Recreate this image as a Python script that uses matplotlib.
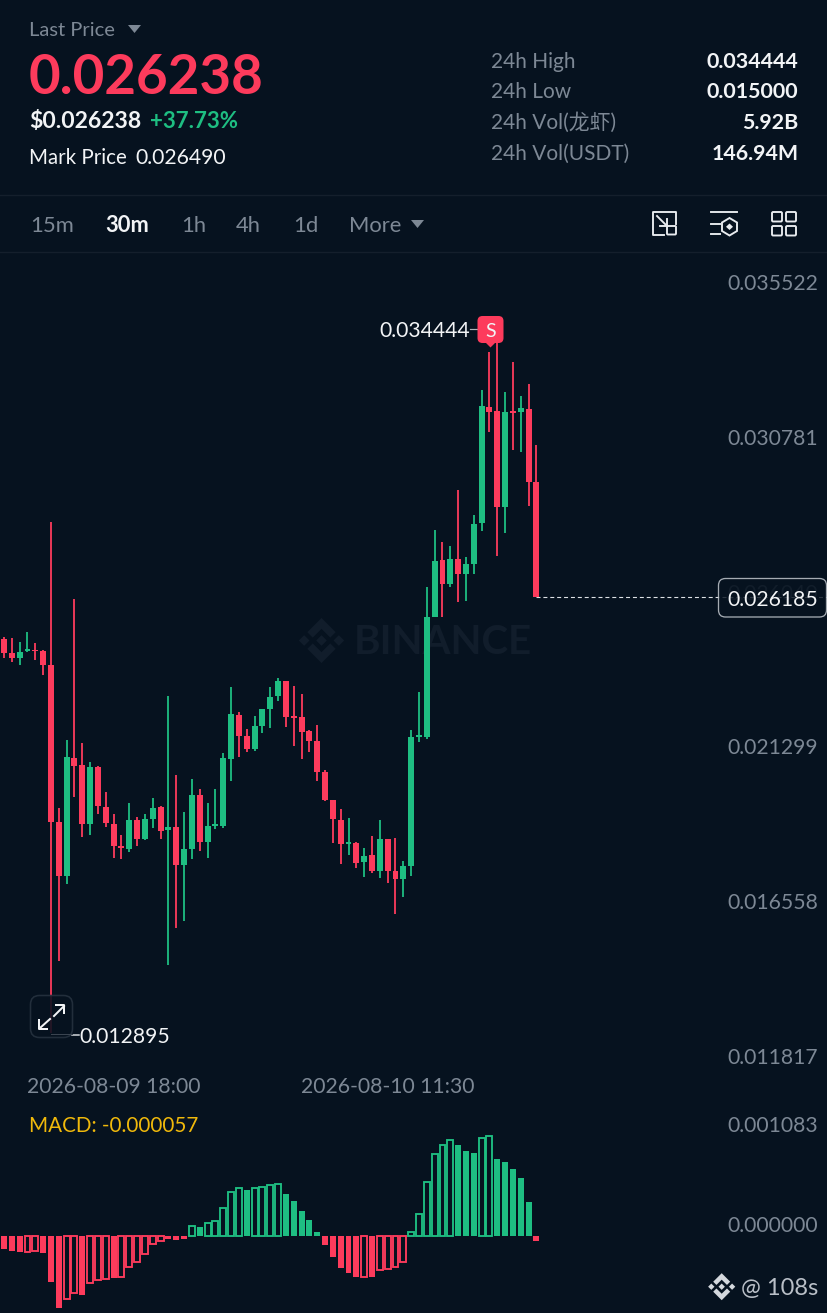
import matplotlib
matplotlib.use("Agg")
import matplotlib.pyplot as plt
from matplotlib.patches import FancyBboxPatch, Polygon
from matplotlib.transforms import ScaledTranslation

FONT = ["Lato", "Noto Sans CJK SC", "DejaVu Sans"]
plt.rcParams["font.family"] = FONT

# ---- data ----
opens = [.024955,.024535,.024373,.024578,.024618,.024596,.024158,.019340,.017695,.021319,.021095,.019297,.021043,.019809,.019288,.018623,.018522,.019411,.018819,.019450,.019800,.019095,.019187,.018032,.018531,.020176,.018746,.019236,.019236,.021288,.022627,.021993,.021576,.022290,.022801,.023209,.023659,.022596,.022566,.022127,.021821,.020881,.020023,.019420,.018667,.018697,.018115,.018329,.017858,.018838,.017839,.017603,.018011,.021944,.021944,.025638,.027365,.026639,.027396,.026936,.027252,.028498,.032052,.031929,.029007,.031908,.031908,.032000,.029773]
closes = [.024535,.024373,.024556,.024648,.024578,.024158,.019340,.017686,.021349,.021065,.019288,.021034,.019830,.019310,.018614,.018544,.019411,.018829,.019432,.019787,.019074,.019187,.018032,.018513,.020176,.018746,.019236,.019288,.021310,.022657,.021993,.021576,.022290,.022801,.023187,.023659,.022575,.022535,.022097,.021830,.020881,.020023,.019432,.018667,.018728,.018094,.018317,.017839,.018819,.017849,.017594,.018002,.021962,.022005,.025638,.027344,.026648,.027396,.026946,.027261,.028486,.032082,.031917,.028998,.031899,.031877,.032030,.029773,.026238]
highs = [.025016,.024976,.024863,.025169,.024823,.024618,.028529,.019778,.021861,.026171,.021760,.021178,.021074,.020268,.019604,.018951,.019922,.019493,.019604,.020075,.019839,.023218,.020789,.019665,.020657,.020351,.019922,.020369,.021472,.023475,.022728,.022189,.022596,.022801,.023475,.023751,.023659,.023515,.023261,.022167,.022320,.020933,.020023,.019738,.019463,.018728,.018544,.018921,.019420,.018838,.018859,.018146,.022167,.023322,.026557,.028293,.027917,.027803,.029509,.027476,.028753,.032582,.033736,.034444,.032511,.033430,.032389,.032774,.030888]
lows = [.024373,.024250,.024158,.024547,.024311,.023852,.012895,.015083,.017460,.020106,.018890,.018951,.019594,.019187,.018256,.018216,.018430,.018614,.018798,.019166,.018829,.014969,.016103,.016308,.018207,.018470,.018237,.019144,.019175,.020596,.021349,.021484,.021524,.022085,.022238,.023056,.022268,.021686,.021279,.021503,.020596,.019993,.018715,.018072,.018339,.017931,.017656,.017797,.017634,.017481,.016522,.017061,.017695,.021791,.021901,.025638,.025638,.026538,.026097,.026119,.026936,.028263,.031286,.027506,.028211,.030753,.030673,.029019,.026238]
macd_hist = [-138,-167,-174,-177,-167,-188,-503,-778,-688,-615,-637,-514,-481,-463,-456,-442,-337,-286,-192,-87,-51,-33,-47,-36,112,98,138,163,308,478,525,503,521,536,550,561,460,376,271,174,40,-101,-228,-344,-398,-449,-449,-445,-366,-355,-337,-279,47,239,590,891,988,1046,988,923,901,1068,1083,833,807,731,634,373,-57]
macd_hollow = [0,0,0,1,1,0,0,0,1,1,0,1,1,1,0,1,1,1,1,1,1,0,0,0,1,0,1,1,1,1,1,0,1,1,1,1,0,0,0,0,0,0,0,0,0,0,1,0,1,1,1,1,1,1,1,1,1,1,0,0,0,1,1,0,0,0,0,0,0]
price_ticks = [0.035522, 0.030781, 0.026040, 0.021299, 0.016558, 0.011817]
macd_ticks = [0.001083, 0.000000]
time_tick_idx = [14, 49]
time_tick_labels = ["2026-08-09 18:00", "2026-08-10 11:30"]
last_price = 0.026238
box_price = 0.026185
stats_labels = ["24h High", "24h Low", "24h Vol(龙虾)", "24h Vol(USDT)"]
stats_values = ["0.034444", "0.015000", "5.92B", "146.94M"]
tabs = ["15m", "30m", "1h", "4h", "1d", "More"]

# ---- style ----
BG = "#06121F"
RED = "#FD3B5C"
GREEN = "#1EBE82"
GREY = "#7D8895"
WHITE = "#F2F4F6"
W, H = 828, 1313
PX = 72 / 100
AXIS_FS = 15.2

fig = plt.figure(figsize=(W / 100, H / 100), dpi=100, facecolor=BG)


def rect_px(top, bottom):
    return [0, 1 - bottom / H, 1, (bottom - top) / H]


def pixel_axes(z):
    a = fig.add_axes([0, 0, 1, 1], zorder=z)
    a.set_xlim(0, W)
    a.set_ylim(H, 0)
    a.axis("off")
    return a


def binance_logo(a, cx, cy, r, color, z=1):
    d = 0.235
    for dx in (-0.77, 0, 0.77):
        a.add_patch(Polygon([(cx + (dx - d) * r, cy), (cx + dx * r, cy - d * r),
                             (cx + (dx + d) * r, cy), (cx + dx * r, cy + d * r)],
                            fc=color, ec="none", zorder=z))
    for s in (-1, 1):
        pts = [(0, 1), (.63, .37), (.39, .13), (0, .52), (-.39, .13), (-.63, .37)]
        a.add_patch(Polygon([(cx + x * r, cy + s * y * r) for x, y in pts],
                            fc=color, ec="none", zorder=z))


# background layer (watermark sits behind the candles)
bg = pixel_axes(0)
binance_logo(bg, 321.5, 640.5, 22.5, "#111D2B")
bg.text(354, 642.5, "BINANCE", color="#111D2B", fontsize=29, fontweight="bold",
        va="center", ha="left")
bg.plot([0, W], [195, 195], color="#141F2C", lw=1.4 * PX)
bg.plot([0, W], [252, 252], color="#141F2C", lw=1.4 * PX)

# shared index scale: candle i is centred at 4 + 7.83 i pixels
STEP = 7.83
xlim = (-4 / STEP, (W - 4) / STEP)
PRICE_PER_PX = 0.004741 / 154.8

# ---- price axes ----
ax = fig.add_axes(rect_px(253, 1068), zorder=1)
ax.patch.set_visible(False)
ax.set_xlim(*xlim)
ax.set_ylim(0.011817, 0.035522 + 41 * PRICE_PER_PX)
idx = list(range(len(opens)))
cols = [RED if c < o else GREEN for o, c in zip(opens, closes)]
ax.vlines(idx, lows, highs, colors=cols, lw=1.3, zorder=3)
ax.bar(idx, [max(abs(c - o), 1.6 * PRICE_PER_PX) for o, c in zip(opens, closes)],
       bottom=[min(o, c) for o, c in zip(opens, closes)], width=0.76, color=cols,
       linewidth=0, zorder=4)
ax.plot([idx[-1], xlim[1]], [last_price, last_price], color="#DDE1E5", lw=0.8,
        dashes=(3.6, 2.6), zorder=2)
for s in ax.spines.values():
    s.set_visible(False)
ax.yaxis.tick_right()
ax.set_yticks(price_ticks, [f"{v:.6f}" for v in price_ticks])
ax.tick_params(axis="y", length=0, pad=-10 * PX, labelsize=AXIS_FS, labelcolor=GREY)
ax.set_xticks(time_tick_idx, time_tick_labels)
ax.tick_params(axis="x", length=0, pad=6.5, labelsize=AXIS_FS, labelcolor=GREY)
up = ScaledTranslation(0, 12 / 100, fig.dpi_scale_trans)
for lab, v in zip(ax.get_yticklabels(), price_ticks):
    lab.set_ha("right")
    lab.set_transform(lab.get_transform() + up)
    if v == 0.026040:
        lab.set_color("#46515E")

# ---- MACD axes ----
PX_MACD = 0.001083 / 99.7
mx = fig.add_axes(rect_px(1110, H), zorder=1)
mx.patch.set_visible(False)
mx.set_xlim(*xlim)
mx.set_ylim(-77 * PX_MACD, 126 * PX_MACD)
for i, (h, hol) in enumerate(zip(macd_hist, macd_hollow)):
    v = h * 1e-6
    c = GREEN if v >= 0 else RED
    if hol:
        mx.bar(i, v, width=0.76, facecolor="none", edgecolor=c, linewidth=1.35, zorder=3)
    else:
        mx.bar(i, v, width=0.76, color=c, linewidth=0, zorder=3)
for s in mx.spines.values():
    s.set_visible(False)
mx.set_xticks([])
mx.yaxis.tick_right()
mx.set_yticks(macd_ticks, [f"{v:.6f}" for v in macd_ticks])
mx.tick_params(axis="y", length=0, pad=-10 * PX, labelsize=AXIS_FS, labelcolor=GREY)
for lab in mx.get_yticklabels():
    lab.set_ha("right")
    lab.set_transform(lab.get_transform() + up)

# ---- interface layer ----
ui = pixel_axes(2)


def t(x, y, s, color=WHITE, size=14, weight="normal", ha="left"):
    return ui.text(x, y, s, color=color, fontsize=size, fontweight=weight, ha=ha,
                   va="center_baseline", family=FONT)


t(29, 29.5, "Last Price", GREY, 14.5)
ui.add_patch(Polygon([(128, 25), (141, 25), (134.5, 33)], fc=GREY, ec="none"))
t(28.5, 73, "0.026238", RED, 39.3, "bold")
t(29, 120, "$0.026238", WHITE, 16.6, "bold")
t(150, 120, "+37.73%", GREEN, 16, "bold")
t(29, 156, "Mark Price", WHITE, 14.8)
t(135, 156, "0.026490", WHITE, 15.2)

for y, lab, val in zip((60, 90, 121, 152), stats_labels, stats_values):
    t(491, y, lab, GREY, 15)
    t(798.5, y, val, WHITE, 15.4, "bold", "right")

for x, s in zip((30, 105, 181, 236, 293, 349), tabs):
    active = s == "30m"
    t(x, 224, s, WHITE if active else GREY, 15.8, "bold" if active else "normal")
ui.add_patch(Polygon([(411, 220), (424, 220), (417.5, 228)], fc=GREY, ec="none"))

# toolbar icons
IC = "#E8EBEF"
lw = 1.9 * PX
ui.plot([664, 653, 653, 676.5, 676.5], [235, 235, 212, 212, 224], color=IC, lw=lw, solid_joinstyle="round")
ui.add_patch(FancyBboxPatch((667, 226), 9, 8.5, boxstyle="round,pad=0,rounding_size=1", fc="none", ec=IC, lw=lw))
ui.plot([657, 667], [216, 226], color=IC, lw=lw)
ui.plot([667, 667, 660], [219, 226, 226], color=IC, lw=lw)
ui.plot([711.5, 737], [212, 212], color=IC, lw=lw)
ui.plot([711.5, 720], [224, 224], color=IC, lw=lw)
ui.plot([711.5, 720], [234, 234], color=IC, lw=lw)
ui.add_patch(Polygon([(729.5, 218), (737, 222.5), (737, 231), (729.5, 235.5), (722, 231), (722, 222.5)],
                     closed=True, fc="none", ec=IC, lw=lw))
ui.add_patch(Polygon([(729.5, 223.5), (733, 226.8), (729.5, 230), (726, 226.8)], fc=IC, ec="none"))
for x0 in (772, 786):
    for y0 in (212, 226):
        ui.add_patch(FancyBboxPatch((x0, y0), 10, 9.5, boxstyle="round,pad=0,rounding_size=1.2",
                                    fc="none", ec=IC, lw=lw))

# high marker
t(379, 329, "0.034444", WHITE, AXIS_FS)
ui.plot([470, 478], [329, 329], color="#AEB4BB", lw=1.2 * PX)
ui.add_patch(FancyBboxPatch((477.5, 316), 26, 27, boxstyle="round,pad=0,rounding_size=5", fc=RED, ec="none", zorder=5))
ui.add_patch(Polygon([(485, 342), (496, 342), (490.5, 347.5)], fc=RED, ec="none", zorder=5))
s_t = t(490.5, 330, "S", WHITE, 14)
s_t.set_ha("center")
s_t.set_zorder(6)

# expand button and low marker
ui.add_patch(FancyBboxPatch((30.5, 995.5), 42, 42, boxstyle="round,pad=0,rounding_size=9",
                            fc=BG, ec="#263240", lw=1.6 * PX, alpha=0.88, zorder=2))
ui.plot([51, 72], [1033.5, 1033.5], color="#3A4450", lw=1.0 * PX, zorder=3)
ui.plot([54, 64], [1016, 1006], color=WHITE, lw=2 * PX, zorder=4)
ui.plot([56.5, 64.5, 64.5], [1005, 1005, 1013], color=WHITE, lw=2 * PX, zorder=4)
ui.plot([40, 50], [1028, 1019], color=WHITE, lw=2 * PX, zorder=4)
ui.plot([39.5, 39.5, 47.5], [1020, 1029, 1029], color=WHITE, lw=2 * PX, zorder=4)
t(79, 1035, "0.012895", WHITE, AXIS_FS)
ui.plot([72, 79], [1034.5, 1034.5], color="#D8DCE0", lw=1.5 * PX)

# last price box
ui.add_patch(FancyBboxPatch((718.5, 578.5), 108, 38.5, boxstyle="round,pad=0,rounding_size=7",
                            fc=BG, ec="#C9CED4", lw=1.3 * PX, alpha=0.82, zorder=5))
b_t = t(818, 598, f"{box_price:.6f}", WHITE, AXIS_FS, ha="right")
b_t.set_zorder(6)

# MACD title and footer
t(29, 1124, f"MACD: {macd_hist[-1] * 1e-6:.6f}", "#F0B90B", 14.9)
binance_logo(ui, 721.7, 1286.7, 13.5, "#D4D8DD")
t(818, 1286, "@ 108s", "#B9BFC7", 17, ha="right")

fig.savefig("out.png", dpi=100, facecolor=BG)
